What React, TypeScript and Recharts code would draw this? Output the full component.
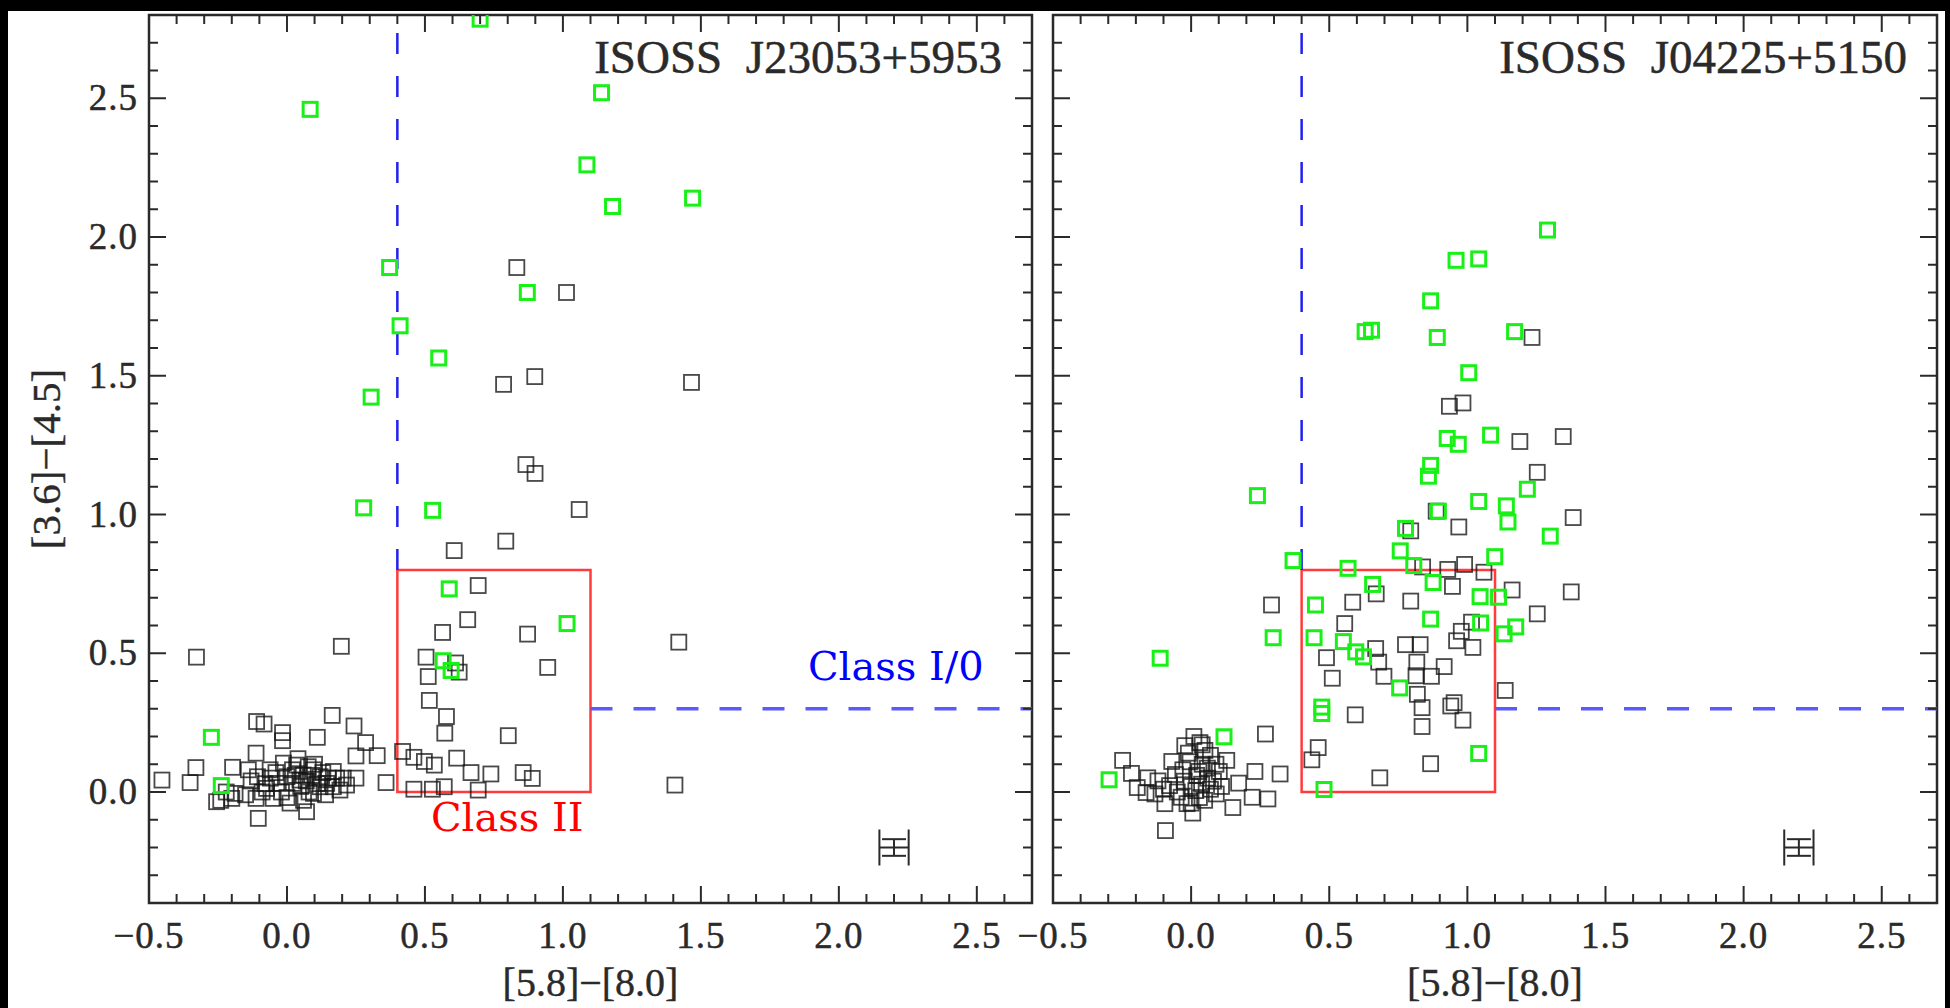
import { ScatterChart, Scatter, XAxis, YAxis, ReferenceArea, ReferenceLine, ErrorBar, Label } from 'recharts';

const X_DOMAIN: [number, number] = [-0.5, 2.7];
const Y_DOMAIN: [number, number] = [-0.4, 2.8];
const X_TICKS = Array.from({ length: 33 }, (_, i) => Math.round((-0.5 + i * 0.1) * 10) / 10);
const Y_TICKS = Array.from({ length: 33 }, (_, i) => Math.round((-0.4 + i * 0.1) * 10) / 10);

// ISOSS J23053+5953
const leftBlack: [number, number][] = [
  [0.833, 1.89], [1.013, 1.8], [0.785, 1.469], [0.898, 1.497], [1.466, 1.476], [0.866, 1.18],
  [0.899, 1.148], [1.059, 1.018], [0.793, 0.904], [0.606, 0.87], [0.693, 0.744], [0.655, 0.621],
  [0.564, 0.575], [0.872, 0.569], [0.945, 0.449], [1.42, 0.54], [1.406, 0.025], [0.197, 0.525],
  [-0.328, 0.486], [0.504, 0.486], [0.611, 0.465], [0.624, 0.432], [0.512, 0.416], [0.516, 0.33],
  [0.578, 0.272], [0.572, 0.212], [0.802, 0.203],
  [-0.11, 0.254], [-0.083, 0.245], [-0.016, 0.214], [-0.016, 0.185], [0.11, 0.197], [0.164, 0.276],
  [0.243, 0.238], [0.285, 0.178], [0.327, 0.131], [0.25, 0.13], [0.419, 0.146], [0.46, 0.125],
  [0.498, 0.11], [0.534, 0.097], [0.615, 0.122], [0.667, 0.07], [0.739, 0.065], [0.856, 0.07],
  [0.889, 0.049], [0.693, 0.007], [0.46, 0.01], [0.527, 0.01], [0.57, 0.019], [0.359, 0.034],
  [0.25, 0.05], [-0.453, 0.043], [-0.351, 0.034], [-0.33, 0.088], [-0.197, 0.089], [-0.255, -0.035],
  [-0.2, -0.023], [-0.188, -0.005], [-0.104, -0.095], [-0.112, -0.023], [-0.112, 0.14], [-0.107, 0.055],
  [-0.061, 0.08], [-0.037, 0.031], [-0.05, -0.023], [0.011, -0.04], [-0.013, 0.104], [0.035, 0.097],
  [0.047, 0.043], [0.071, -0.071], [0.096, -0.005], [0.096, 0.08], [0.12, 0.055], [0.144, 0.031],
  [0.168, 0.074], [0.192, 0.007], [0.204, 0.05], [0.216, 0.025], [0.077, 0.091], [0.023, 0.031],
  [-0.074, 0.013], [-0.14, 0.08], [0.0, 0.055], [0.059, 0.061], [0.12, 0.019], [0.168, 0.019],
  [-0.09, 0.0], [-0.06, 0.05], [-0.02, 0.0], [0.0, -0.02], [0.03, 0.06], [0.05, 0.02],
  [0.07, 0.04], [0.09, 0.06], [0.11, 0.03], [0.13, 0.07], [0.15, 0.05], [0.06, -0.03],
  [0.02, 0.08], [-0.04, 0.07], [0.1, 0.1], [0.18, 0.05], [0.14, -0.01], [-0.08, 0.03],
  [0.04, 0.12], [0.08, 0.0], [-0.13, 0.04], [-0.15, -0.01], [-0.22, 0.0], [-0.24, -0.03],
];
const leftGreen: [number, number][] = [
  [0.7, 2.785], [0.084, 2.46], [1.14, 2.52], [1.087, 2.26], [1.18, 2.11], [1.47, 2.14],
  [0.372, 1.89], [0.871, 1.8], [0.41, 1.68], [0.55, 1.564], [0.305, 1.423], [0.278, 1.024],
  [0.528, 1.015], [0.588, 0.732], [1.015, 0.607], [0.566, 0.473], [0.595, 0.438], [-0.274, 0.197],
  [-0.238, 0.023],
];

// ISOSS J04225+5150
const rightBlack: [number, number][] = [
  [1.234, 1.638], [0.935, 1.39], [0.984, 1.402], [1.19, 1.263], [1.347, 1.281], [1.253, 1.152],
  [1.383, 0.989], [0.969, 0.955], [0.795, 0.941], [0.887, 1.012], [0.99, 0.82], [0.929, 0.802],
  [1.06, 0.792], [0.838, 0.811], [1.162, 0.728], [1.376, 0.721], [1.253, 0.642], [0.946, 0.741],
  [0.795, 0.688], [0.67, 0.714], [0.585, 0.684], [0.291, 0.674], [0.556, 0.607], [0.49, 0.484],
  [0.511, 0.41], [0.668, 0.517], [0.679, 0.468], [0.698, 0.417], [0.776, 0.531], [0.829, 0.531],
  [0.817, 0.468], [0.814, 0.419], [0.87, 0.417], [0.916, 0.452], [0.819, 0.352], [0.836, 0.304],
  [0.836, 0.236], [0.94, 0.31], [0.952, 0.322], [0.984, 0.259], [0.961, 0.545], [1.02, 0.521],
  [0.978, 0.579], [1.015, 0.612], [1.137, 0.366], [0.594, 0.278], [0.46, 0.16], [0.437, 0.116],
  [0.867, 0.102], [0.683, 0.051], [0.269, 0.209], [0.322, 0.065], [0.278, -0.025], [0.221, -0.019],
  [0.231, 0.074], [0.172, 0.032], [0.151, -0.056], [0.129, 0.114], [-0.093, -0.139], [-0.248, 0.114],
  [-0.216, 0.067], [-0.157, 0.051], [-0.163, -0.002], [-0.095, -0.042], [-0.078, 0.023],
  [-0.023, 0.167], [0.032, 0.178], [0.07, 0.132], [-0.004, 0.109], [0.028, 0.074], [-0.025, 0.039],
  [0.017, 0.005], [0.049, -0.03], [-0.036, -0.019], [0.006, -0.076], [0.081, 0.039], [0.091, -0.007],
  [-0.057, 0.063], [0.059, 0.086], [-0.015, -0.042], [0.038, 0.028], [0.102, 0.074], [-0.131, -0.007],
  [-0.195, 0.016],
  [0.0, 0.02], [0.02, 0.06], [0.04, 0.1], [-0.01, 0.14], [0.05, 0.15], [0.01, 0.2],
  [-0.05, 0.0], [0.07, 0.01], [0.03, -0.02], [-0.03, 0.08], [0.06, 0.05], [-0.1, 0.01],
  [-0.12, 0.04], [0.0, -0.04], [0.09, 0.1], [0.04, 0.17], [-0.07, 0.11], [0.11, 0.02],
];
const rightGreen: [number, number][] = [
  [1.29, 2.025], [0.959, 1.916], [1.041, 1.921], [0.867, 1.77], [0.63, 1.659], [0.653, 1.664],
  [0.891, 1.638], [1.171, 1.659], [1.005, 1.511], [0.927, 1.274], [0.967, 1.253], [1.084, 1.286],
  [0.867, 1.177], [0.859, 1.138], [0.24, 1.068], [0.895, 1.012], [1.041, 1.047], [1.141, 1.031],
  [1.217, 1.091], [1.147, 0.973], [1.3, 0.922], [0.776, 0.95], [0.757, 0.869], [0.369, 0.834],
  [0.568, 0.806], [0.806, 0.816], [1.099, 0.848], [0.657, 0.748], [0.876, 0.755], [0.45, 0.674],
  [0.297, 0.556], [0.445, 0.556], [0.551, 0.542], [0.596, 0.505], [0.624, 0.487], [0.867, 0.623],
  [1.046, 0.704], [1.048, 0.609], [1.133, 0.57], [1.175, 0.595], [1.113, 0.702], [-0.112, 0.482],
  [0.755, 0.375], [0.473, 0.306], [0.473, 0.283], [1.041, 0.139], [0.481, 0.009], [0.119, 0.199],
  [-0.297, 0.044],
];

// typical error bar drawn at (2.2, -0.2)
const errPoint = [{ x: 2.2, y: -0.2, ex: 0.053, ey: 0.03 }];

const FONT = '"Liberation Serif", serif';
const CLASS_FONT = '"DejaVu Serif", serif';
const INK = '#2a2a2a';
const PLOT_TOP = 15;
const PLOT_BOTTOM = 903;

const toPts = (arr: [number, number][]) => arr.map(([x, y]) => ({ x, y }));
const isMajor = (v: number) => Math.abs(v * 2 - Math.round(v * 2)) < 1e-6;
const fmt = (v: number) => (v < 0 ? '\u2212' + Math.abs(v).toFixed(1) : v.toFixed(1));
const atEdge = (v: number, d: [number, number]) => Math.abs(v - d[0]) < 1e-6 || Math.abs(v - d[1]) < 1e-6;

const BlackSquare = (props: any) => (
  <rect x={props.cx - 7.5} y={props.cy - 7.5} width={15} height={15} fill="none" stroke="rgba(20,20,20,0.78)" strokeWidth={1.8} />
);
const GreenSquare = (props: any) => (
  <rect x={props.cx - 7} y={props.cy - 7} width={14} height={14} fill="none" stroke="#18f018" strokeWidth={3} />
);

interface PanelProps {
  left: number;
  width: number;
  yAxisWidth: number;
  marginRight: number;
  title: string;
  black: [number, number][];
  green: [number, number][];
  yLabels: boolean;
  classLabels: boolean;
}

function Panel(p: PanelProps) {
  const plotLeft = p.yAxisWidth;
  const plotRight = p.width - p.marginRight;

  const xTick = (props: any) => {
    const { x, payload } = props;
    const v = payload.value;
    const len = isMajor(v) ? 17 : 9;
    return (
      <g>
        {!atEdge(v, X_DOMAIN) && (
          <g stroke={INK} strokeWidth={2}>
            <line x1={x} y1={PLOT_BOTTOM} x2={x} y2={PLOT_BOTTOM - len} />
            <line x1={x} y1={PLOT_TOP} x2={x} y2={PLOT_TOP + len} />
          </g>
        )}
        {isMajor(v) && (
          <text x={x} y={948} textAnchor="middle" fontFamily={FONT} fontSize={37} fill={INK} stroke={INK} strokeWidth={0.5} letterSpacing={1}>
            {fmt(v)}
          </text>
        )}
      </g>
    );
  };

  const yTick = (props: any) => {
    const { y, payload } = props;
    const v = payload.value;
    const len = isMajor(v) ? 17 : 9;
    return (
      <g>
        {!atEdge(v, Y_DOMAIN) && (
          <g stroke={INK} strokeWidth={2}>
            <line x1={plotLeft} y1={y} x2={plotLeft + len} y2={y} />
            <line x1={plotRight} y1={y} x2={plotRight - len} y2={y} />
          </g>
        )}
        {p.yLabels && isMajor(v) && (
          <text x={plotLeft - 11} y={y + 12} textAnchor="end" fontFamily={FONT} fontSize={37} fill={INK} stroke={INK} strokeWidth={0.5} letterSpacing={1}>
            {fmt(v)}
          </text>
        )}
      </g>
    );
  };

  return (
    <div style={{ position: 'absolute', left: p.left, top: 0 }}>
      <ScatterChart width={p.width} height={1008} margin={{ top: PLOT_TOP, right: p.marginRight, bottom: 0, left: 0 }}>
        <XAxis
          dataKey="x"
          type="number"
          domain={X_DOMAIN}
          ticks={X_TICKS}
          interval={0}
          allowDataOverflow
          axisLine={false}
          tickLine={false}
          tick={xTick}
          height={1008 - PLOT_BOTTOM}
        >
          <Label value={'[5.8]\u2212[8.0]'} position="insideBottom" offset={12} fontFamily={FONT} fontSize={40} fill={INK} stroke={INK} strokeWidth={0.4} />
        </XAxis>
        <YAxis
          dataKey="y"
          type="number"
          domain={Y_DOMAIN}
          ticks={Y_TICKS}
          interval={0}
          allowDataOverflow
          axisLine={false}
          tickLine={false}
          tick={yTick}
          width={p.yAxisWidth}
        >
          {p.yLabels && (
            <Label
              content={(lp: any) => {
                const vb = lp.viewBox;
                const cx = 46;
                const cy = vb.y + vb.height / 2;
                return (
                  <text x={cx} y={cy} transform={`rotate(-90 ${cx} ${cy})`} dy={14} textAnchor="middle" fontFamily={FONT} fontSize={41} fill={INK} stroke={INK} strokeWidth={0.4}>
                    {'[3.6]\u2212[4.5]'}
                  </text>
                );
              }}
            />
          )}
        </YAxis>
        <ReferenceArea x1={X_DOMAIN[0]} x2={X_DOMAIN[1]} y1={Y_DOMAIN[0]} y2={Y_DOMAIN[1]} fill="none" stroke={INK} strokeWidth={2.5} ifOverflow="visible" />
        <ReferenceArea x1={0.4} x2={1.1} y1={0} y2={0.8} fill="none" stroke="#ff3b3b" strokeWidth={2.5} fillOpacity={0} />
        <ReferenceLine segment={[{ x: 0.4, y: 0.8 }, { x: 0.4, y: 2.8 }]} stroke="#2020f0" strokeWidth={2.5} strokeDasharray="21 22" />
        <ReferenceLine segment={[{ x: 1.1, y: 0.3 }, { x: 2.7, y: 0.3 }]} stroke="#5a5aff" strokeWidth={3.5} strokeDasharray="22 21" />
        <Scatter data={toPts(p.black)} shape={BlackSquare} isAnimationActive={false} />
        <Scatter data={toPts(p.green)} shape={GreenSquare} isAnimationActive={false} />
        <Scatter data={errPoint} shape={() => <g />} isAnimationActive={false}>
          <ErrorBar dataKey="ex" direction="x" width={18} stroke={INK} strokeWidth={2} />
          <ErrorBar dataKey="ey" direction="y" width={12} stroke={INK} strokeWidth={2} />
        </Scatter>
        <text x={plotRight - 30} y={73} textAnchor="end" fontFamily={FONT} fontSize={47} fill={INK} stroke={INK} strokeWidth={0.5} style={{ whiteSpace: 'pre' }}>
          {p.title}
        </text>
        {p.classLabels && (
          <text x={808} y={680} fontFamily={CLASS_FONT} fontSize={40} fill="#0000ff">Class I/0</text>
        )}
        {p.classLabels && (
          <text x={431} y={831} fontFamily={CLASS_FONT} fontSize={40} fill="#ff0000">Class II</text>
        )}
      </ScatterChart>
    </div>
  );
}

export default function App() {
  return (
    <div style={{ position: 'absolute', left: 0, top: 0, width: 1950, height: 1008, background: '#fff', overflow: 'hidden' }}>
      <Panel
        left={0}
        width={1042}
        yAxisWidth={149}
        marginRight={10}
        title={'ISOSS\u00a0\u00a0J23053+5953'}
        black={leftBlack}
        green={leftGreen}
        yLabels
        classLabels
      />
      <Panel
        left={1000}
        width={950}
        yAxisWidth={53}
        marginRight={13}
        title={'ISOSS\u00a0\u00a0J04225+5150'}
        black={rightBlack}
        green={rightGreen}
        yLabels={false}
        classLabels={false}
      />
      <div style={{ position: 'absolute', left: 0, top: 0, width: 1950, height: 11, background: '#000' }} />
      <div style={{ position: 'absolute', left: 0, top: 0, width: 8, height: 1008, background: '#000' }} />
      <div style={{ position: 'absolute', left: 1945, top: 0, width: 5, height: 1008, background: '#000' }} />
    </div>
  );
}
